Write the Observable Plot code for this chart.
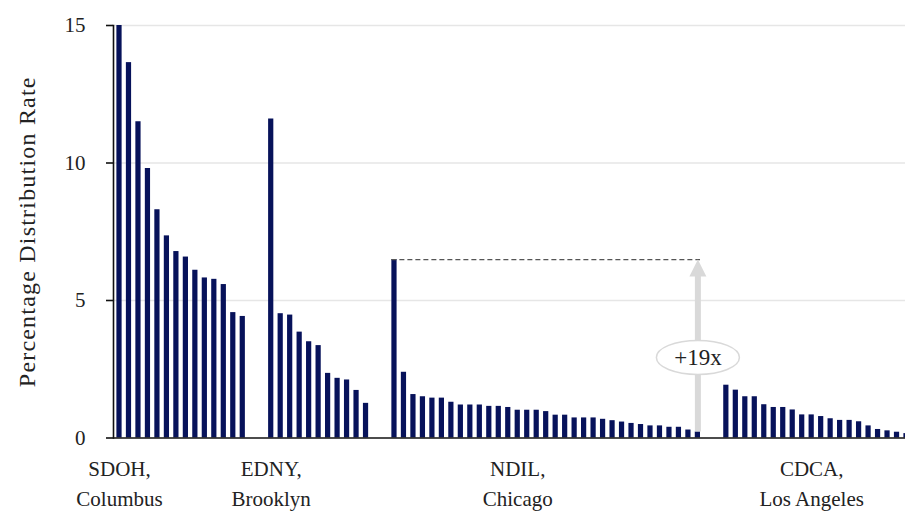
<!DOCTYPE html>
<html>
<head>
<meta charset="utf-8">
<script src="https://cdn.jsdelivr.net/npm/d3@7"></script>
<script src="https://cdn.jsdelivr.net/npm/@observablehq/plot@0.6"></script>
<style>
  html, body { margin: 0; padding: 0; background: #fff; }
  svg { overflow: hidden; }
  svg, svg text, svg tspan { font-family: "Liberation Serif", "DejaVu Serif", serif !important; }
  #chart svg > g:last-of-type text { letter-spacing: 1.2px; }
</style>
</head>
<body>
<div id="chart"></div>
<script>
// ---- data ----
const groupNames = ["SDOH,\nColumbus", "EDNY,\nBrooklyn", "NDIL,\nChicago", "CDCA,\nLos Angeles"];
const sdoh = [15.0, 13.65, 11.5, 9.8, 8.3, 7.35, 6.78, 6.58, 6.1, 5.82, 5.77, 5.58, 4.56, 4.42];
const edny = [11.6, 4.52, 4.47, 3.85, 3.5, 3.36, 2.35, 2.17, 2.11, 1.73, 1.26];
const ndil = [6.49, 2.39, 1.58, 1.50, 1.45, 1.45, 1.30, 1.20, 1.20, 1.20, 1.15, 1.15, 1.11,
              1.01, 1.01, 1.01, 0.96, 0.83, 0.83, 0.73, 0.73, 0.73, 0.68, 0.63, 0.58, 0.53,
              0.49, 0.44, 0.44, 0.39, 0.39, 0.29, 0.22];
const cdca = [1.92, 1.74, 1.50, 1.50, 1.21, 1.11, 1.11, 1.02, 0.84, 0.84, 0.78, 0.70, 0.64,
              0.64, 0.59, 0.44, 0.31, 0.26, 0.21, 0.16];
const groupLabelSlots = [0, 16, 42, 73];
const yTicks = [0, 5, 10, 15];
const yLabel = "Percentage Distribution Rate";
const annotationText = "+19x";
const annotationY = 2.93;

// ---- build table ----
const groupValues = [sdoh, edny, ndil, cdca];
const gap = 2;
const rows = [];
const groupSlots = [];
let s = 0;
groupValues.forEach((vals, gi) => {
  const first = s;
  vals.forEach(v => { rows.push({slot: s, value: v, group: gi}); s++; });
  groupSlots.push({first, last: s - 1});
  s += gap;
});
const nSlots = groupSlots[groupSlots.length - 1].last + 1;
const labels = groupNames.map((name, i) => ({slot: groupLabelSlots[i], name}));

const ndilFirst = groupSlots[2].first, ndilLast = groupSlots[2].last;
const ndilMax = d3.max(ndil), ndilMin = ndil[ndil.length - 1];

const ellipseSymbol = {
  draw(ctx) {
    const rx = 41.5, ry = 17, k = 0.5523;
    ctx.moveTo(rx, 0);
    ctx.bezierCurveTo(rx, ry * k, rx * k, ry, 0, ry);
    ctx.bezierCurveTo(-rx * k, ry, -rx, ry * k, -rx, 0);
    ctx.bezierCurveTo(-rx, -ry * k, -rx * k, -ry, 0, -ry);
    ctx.bezierCurveTo(rx * k, -ry, rx, -ry * k, rx, 0);
    ctx.closePath();
  }
};
const headSymbol = {
  draw(ctx) {
    ctx.moveTo(0, 0);
    ctx.lineTo(8.5, 17);
    ctx.lineTo(-8.5, 17);
    ctx.closePath();
  }
};

const font = "Liberation Serif, serif";

const chart = Plot.plot({
  width: 905,
  height: 512,
  marginLeft: 113,
  marginRight: 0,
  marginTop: 25,
  marginBottom: 74.5,
  style: {fontFamily: font, fontSize: "20px", color: "#222", background: "#fff"},
  x: {type: "band", domain: d3.range(nSlots), range: [113, 912], paddingInner: 0.45, paddingOuter: 0.358, round: false, axis: null},
  y: {domain: [0, 15], axis: null},
  marks: [
    Plot.gridY([5, 10, 15], {stroke: "#e6e6e6", strokeOpacity: 1, strokeWidth: 1.5}),
    Plot.barY(rows, {x: "slot", y: "value", fill: "#07125a"}),
    Plot.ruleY([ndilMax], {x1: ndilFirst, x2: ndilLast, stroke: "#555", strokeWidth: 1.2, strokeDasharray: "5,3"}),
    Plot.ruleX([ndilLast], {y1: ndilMin, y2: 5.9, stroke: "#d9d9d9", strokeWidth: 6}),
    Plot.dot([ndilLast], {x: d => d, y: ndilMax, symbol: headSymbol, fill: "#d9d9d9", stroke: null}),
    Plot.dot([ndilLast], {x: d => d, y: annotationY, symbol: ellipseSymbol, fill: "#fff", stroke: "#d9d9d9", strokeWidth: 1.5}),
    Plot.text([annotationText], {x: ndilLast, y: annotationY, text: d => d, fontSize: 23, fill: "#222"}),
    Plot.ruleY([0], {stroke: "#111", strokeWidth: 1.6}),
    Plot.frame({anchor: "left", stroke: "#111", strokeWidth: 1.6}),
    Plot.axisY({ticks: yTicks, tickSize: 7, tickPadding: 21, fontSize: 21, label: null, stroke: "#111", strokeWidth: 1.6}),
    Plot.text(labels, {x: "slot", text: "name", frameAnchor: "bottom", lineAnchor: "top", dy: 16, lineHeight: 1.45, fontSize: 21, fill: "#222"}),
    Plot.text([yLabel], {frameAnchor: "left", dx: -86, rotate: -90, textAnchor: "middle", text: d => d, fontSize: 24, fill: "#222"})
  ]
});
document.getElementById("chart").appendChild(chart);
</script>
</body>
</html>
